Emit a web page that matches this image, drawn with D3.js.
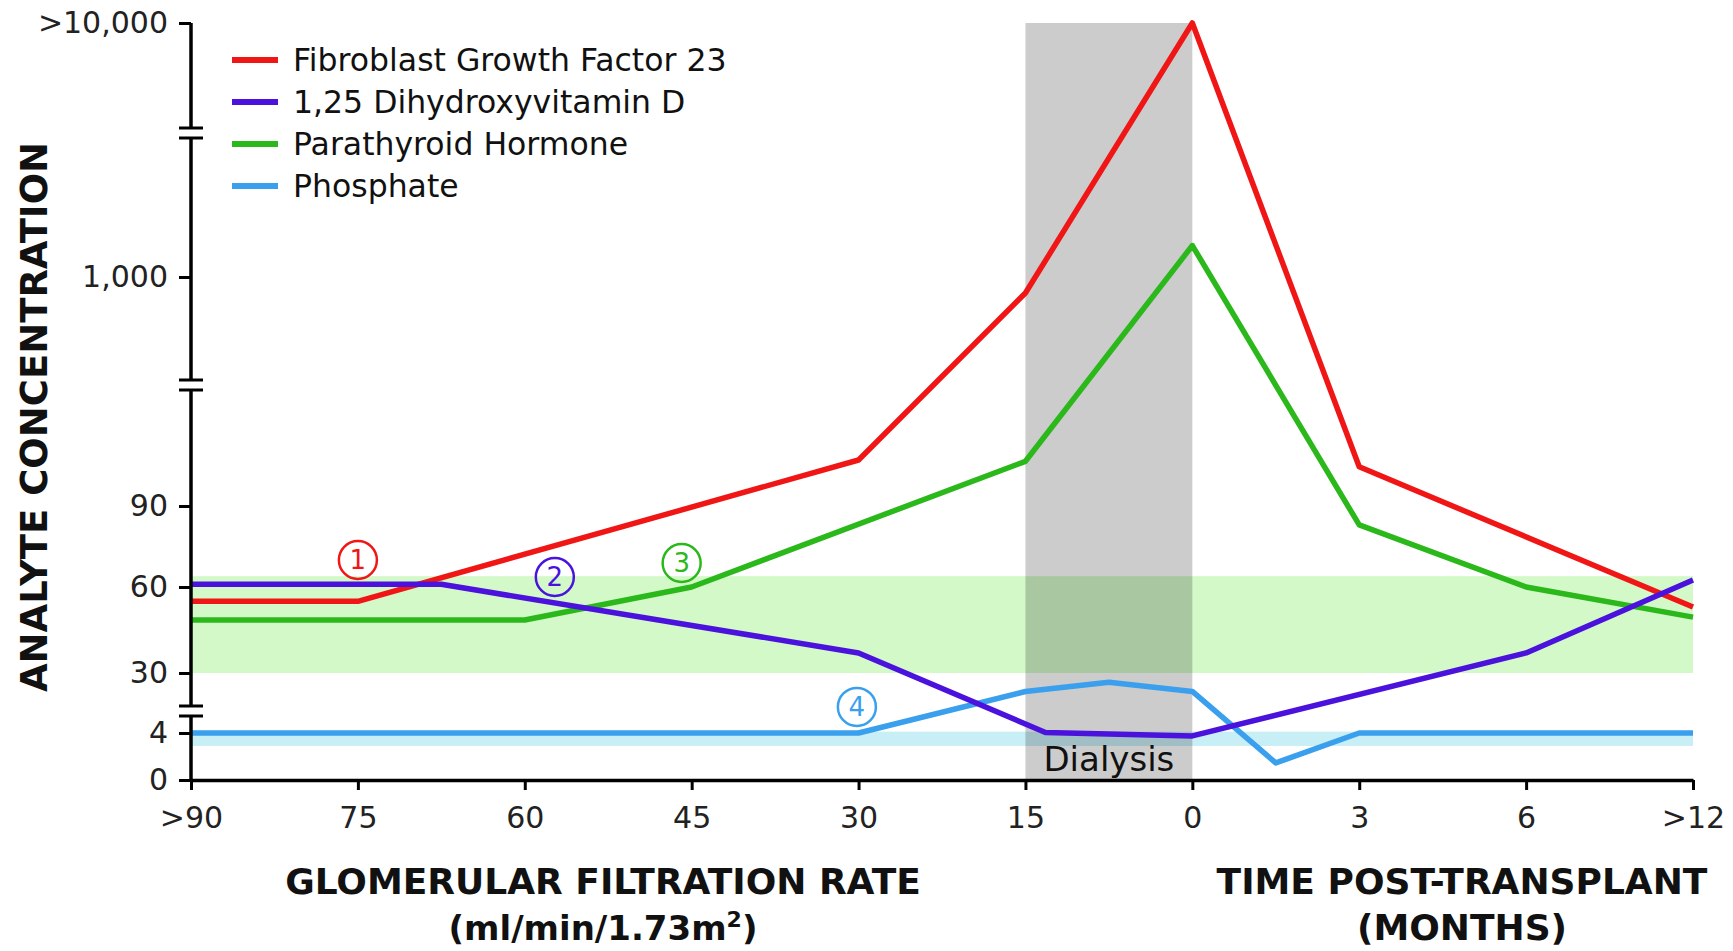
<!DOCTYPE html>
<html>
<head>
<meta charset="utf-8">
<script src="https://cdn.jsdelivr.net/npm/d3@7"></script>
<style>
  body { margin: 0; background: #fff; }
  text { font-family: "DejaVu Sans", sans-serif; }
</style>
</head>
<body>
<div id="chart"></div>
<script>
// categories on the x axis (GFR, then months after transplant)
const xLabels = [">90", "75", "60", "45", "30", "15", "0", "3", "6", ">12"];

// y ticks
const yTickValues = [0, 4, 30, 60, 90, 1000, 10000];
const yTickLabels = ["0", "4", "30", "60", "90", "1,000", ">10,000"];

// series: x is the category index, y the concentration
const seriesNames = ["Fibroblast Growth Factor 23", "1,25 Dihydroxyvitamin D", "Parathyroid Hormone", "Phosphate"];
const seriesColors = ["#f01616", "#4a12dc", "#2bb81a", "#3aa0ee"];

const fgf23X = [0, 1, 4, 5, 6, 7, 9];
const fgf23Y = [55, 55, 146, 845, 10000, 136, 53];

const vitDX = [0, 1.5, 4, 5.12, 6, 8, 9];
const vitDY = [61, 61, 37, 4.2, 3.75, 37, 62.6];

const pthX = [0, 2, 3, 5, 6, 7, 8, 9];
const pthY = [48.5, 48.5, 60, 144, 1330, 83, 60, 49.5];

const phosX = [0, 4, 5, 5.5, 6, 6.5, 7, 9];
const phosY = [4, 4, 22, 26, 22, 1.45, 4, 4];

// normal ranges and the dialysis window
const normalRange = [30, 64];
const phosRange = [2.9, 4.6];
const dialysisX = [5, 6];

// circled numbers
const noteLabels = ["1", "2", "3", "4"];
const noteX = [1, 2.18, 2.94, 3.99];
const noteY = [70, 63.7, 68.9, 15.3];

// view
const w = 1733, h = 951;

const svg = d3.select("#chart")
  .append("svg")
  .attr("width", w)
  .attr("height", h);

const x = d3.scaleLinear().domain([0, xLabels.length - 1]).range([191, 1693]);

// broken y axis: linear below 90, log above
const yLow = d3.scaleLinear().domain([0, 4, 30, 60, 90]).range([780, 733, 673, 587, 506]);
const yHigh = d3.scaleLog().domain([90, 1000, 10000]).range([506, 277, 23]);
const y = v => (v <= 90 ? yLow(v) : yHigh(v));

// bands
svg.append("rect")
  .attr("x", x(0)).attr("width", x(9) - x(0))
  .attr("y", y(normalRange[1])).attr("height", y(normalRange[0]) - y(normalRange[1]))
  .attr("fill", "#d4f9c8");

svg.append("rect")
  .attr("x", x(0)).attr("width", x(9) - x(0))
  .attr("y", y(phosRange[1])).attr("height", y(phosRange[0]) - y(phosRange[1]))
  .attr("fill", "#c8eef6");

svg.append("rect")
  .attr("x", x(dialysisX[0])).attr("width", x(dialysisX[1]) - x(dialysisX[0]))
  .attr("y", y(10000)).attr("height", y(0) - y(10000))
  .attr("fill", "#000").attr("fill-opacity", 0.2);

svg.append("text")
  .attr("x", x(d3.mean(dialysisX)))
  .attr("y", 771)
  .attr("text-anchor", "middle")
  .attr("font-size", 34)
  .attr("fill", "#111")
  .text("Dialysis");

// lines
const series = [
  d3.zip(fgf23X, fgf23Y),
  d3.zip(vitDX, vitDY),
  d3.zip(pthX, pthY),
  d3.zip(phosX, phosY)
];

const line = d3.line().x(d => x(d[0])).y(d => y(d[1]));

// phosphate first so the others sit on top like the original
svg.selectAll("path.series")
  .data([3, 2, 0, 1])
  .enter()
  .append("path")
  .attr("class", "series")
  .attr("d", i => line(series[i]))
  .attr("fill", "none")
  .attr("stroke", i => seriesColors[i])
  .attr("stroke-width", 5.5)
  .attr("stroke-linejoin", "round");

// circled numbers
const notes = svg.selectAll("g.note")
  .data(noteLabels)
  .enter()
  .append("g")
  .attr("class", "note")
  .attr("transform", (d, i) => `translate(${x(noteX[i])},${y(noteY[i])})`);

notes.append("circle")
  .attr("r", 19)
  .attr("fill", "none")
  .attr("stroke", (d, i) => seriesColors[i])
  .attr("stroke-width", 2.5);

notes.append("text")
  .attr("text-anchor", "middle")
  .attr("dy", "0.36em")
  .attr("font-size", 26)
  .attr("fill", (d, i) => seriesColors[i])
  .text(d => d);

// x axis
const xAxis = svg.append("g")
  .attr("transform", `translate(0,${y(0)})`)
  .call(d3.axisBottom(x)
    .tickValues(d3.range(xLabels.length))
    .tickFormat(i => xLabels[i])
    .tickSize(10)
    .tickSizeOuter(0)
    .tickPadding(17));

xAxis.select(".domain").attr("stroke", "#000").attr("stroke-width", 3.5);
xAxis.selectAll(".tick line").attr("stroke", "#000").attr("stroke-width", 3);
xAxis.selectAll(".tick text")
  .attr("font-family", "DejaVu Sans")
  .attr("font-size", 30)
  .attr("fill", "#222");

// y axis, drawn in two pieces
const lowIdx = yTickValues.map((v, i) => i).filter(i => yTickValues[i] <= 90);
const highIdx = yTickValues.map((v, i) => i).filter(i => yTickValues[i] > 90);

function yAxisPart(scale, idx) {
  const g = svg.append("g")
    .attr("transform", `translate(${x(0)},0)`)
    .call(d3.axisLeft(scale)
      .tickValues(idx.map(i => yTickValues[i]))
      .tickFormat(v => yTickLabels[yTickValues.indexOf(v)])
      .tickSize(12)
      .tickPadding(11));
  g.select(".domain").remove();
  g.selectAll(".tick line").attr("stroke", "#000").attr("stroke-width", 3);
  g.selectAll(".tick text")
    .attr("font-family", "DejaVu Sans")
    .attr("font-size", 30)
    .attr("fill", "#222");
}
yAxisPart(yLow, lowIdx);
yAxisPart(yHigh, highIdx);

// axis line with breaks
const breaks = [133, 385, 711];
const gap = 5;
const stops = [y(10000)];
breaks.forEach(b => { stops.push(b - gap, b + gap); });
stops.push(y(0));

const yLine = svg.append("g");
for (let k = 0; k < stops.length; k += 2) {
  yLine.append("line")
    .attr("x1", x(0)).attr("x2", x(0))
    .attr("y1", stops[k]).attr("y2", stops[k + 1])
    .attr("stroke", "#000").attr("stroke-width", 3.5);
}
breaks.forEach(b => {
  [-gap, gap].forEach(o => {
    yLine.append("line")
      .attr("x1", x(0) - 12).attr("x2", x(0) + 12)
      .attr("y1", b + o).attr("y2", b + o)
      .attr("stroke", "#000").attr("stroke-width", 3);
  });
});

// legend
const legend = svg.selectAll("g.legend")
  .data(seriesNames)
  .enter()
  .append("g")
  .attr("class", "legend")
  .attr("transform", (d, i) => `translate(232,${60 + i * 42})`);

legend.append("line")
  .attr("x1", 0).attr("x2", 46)
  .attr("stroke", (d, i) => seriesColors[i])
  .attr("stroke-width", 6);

legend.append("text")
  .attr("x", 61)
  .attr("dy", "0.36em")
  .attr("font-size", 31.5)
  .attr("fill", "#111")
  .text(d => d);

// axis titles
svg.append("text")
  .attr("transform", "translate(47,417) rotate(-90)")
  .attr("text-anchor", "middle")
  .attr("font-size", 37)
  .attr("font-weight", "bold")
  .attr("fill", "#111")
  .text("ANALYTE CONCENTRATION");

const t1 = svg.append("text")
  .attr("text-anchor", "middle")
  .attr("font-size", 36)
  .attr("font-weight", "bold")
  .attr("fill", "#111");
t1.append("tspan").attr("x", 603).attr("y", 894).text("GLOMERULAR FILTRATION RATE");
const t1b = t1.append("tspan").attr("x", 603).attr("y", 940).attr("font-size", 34);
t1b.append("tspan").text("(ml/min/1.73m");
t1b.append("tspan").attr("dy", -13).attr("font-size", 22).text("2");
t1b.append("tspan").attr("dy", 13).text(")");

const t2 = svg.append("text")
  .attr("text-anchor", "middle")
  .attr("font-size", 36)
  .attr("font-weight", "bold")
  .attr("fill", "#111");
t2.append("tspan").attr("x", 1462).attr("y", 894).text("TIME POST-TRANSPLANT");
t2.append("tspan").attr("x", 1462).attr("y", 940).text("(MONTHS)");
</script>
</body>
</html>
